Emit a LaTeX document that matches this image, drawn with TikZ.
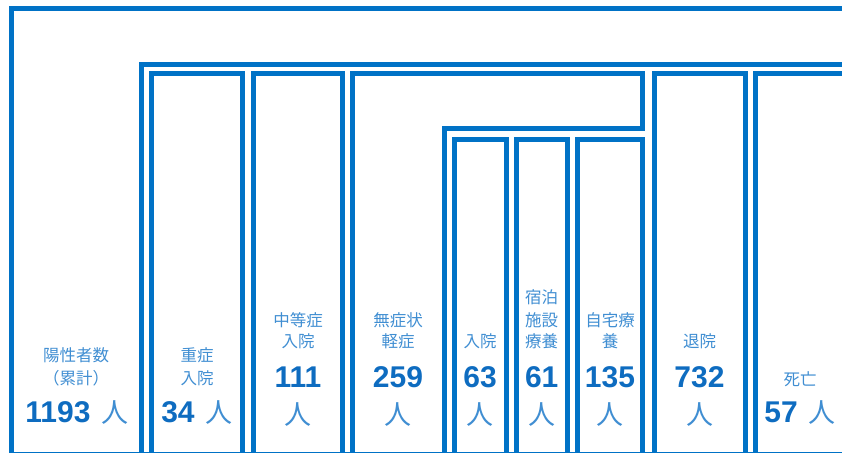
\documentclass[tikz,border=0pt]{standalone}
\usepackage{fontspec}
\newfontfamily\cjk{Noto Sans CJK JP}
\newfontfamily\numf{Liberation Sans}
\definecolor{lineblue}{RGB}{0,114,198}
\definecolor{labelblue}{RGB}{64,142,210}
\definecolor{numblue}{RGB}{14,108,192}
\tikzset{
  box/.style={draw=lineblue, line width=5pt, line join=miter},
  lbl/.style={text=labelblue, font=\cjk\fontsize{16.5}{16.5}\selectfont, inner sep=0pt, anchor=center},
  num/.style={text=numblue, font=\numf\bfseries\fontsize{30}{30}\selectfont, inner sep=0pt, anchor=center},
  ren/.style={text=labelblue, font=\cjk\fontsize{27}{27}\selectfont, inner sep=0pt, anchor=center},
}
\newcommand{\renchar}{{\cjk\mdseries\fontsize{27}{27}\selectfont\color{labelblue}人}}
\begin{document}
\begin{tikzpicture}[x=1pt,y=-1pt]
\useasboundingbox (0,0) rectangle (842,452);
% frames
\draw[box] (860,8.5) -- (11,8.5) -- (11,454) -- (860,454);
\draw[box] (860,64) -- (141.5,64) -- (141.5,454) -- (860,454);
\draw[box] (151.7,73.5) rectangle (242.5,454);
\draw[box] (253,73.5) rectangle (342.5,454);
\draw[box] (352.5,454) -- (352.5,73.5) -- (642.5,73.5) -- (642.5,128.5) -- (444,128.5) -- (444,454) -- cycle;
\draw[box] (454,139) rectangle (506,454);
\draw[box] (516,139) rectangle (567.5,454);
\draw[box] (577.5,139) rectangle (642.5,454);
\draw[box] (654,73.5) rectangle (745,454);
\draw[box] (755,73.5) -- (860,73.5) -- (860,454) -- (755,454) -- cycle;
% texts
\node[lbl] (p1) at (76,355.5) {陽性者数};
\node[lbl] (p2) at (76,378.5) {（累計）};
\node[num] (p3) at (77,412.5) {1193\hspace{11pt}\renchar};

\node[lbl] (j1) at (197,355.5) {重症};
\node[lbl] (j2) at (197,378.5) {入院};
\node[num] (j3) at (197,412.5) {34\hspace{11pt}\renchar};

\node[lbl] (c1) at (298,320) {中等症};
\node[lbl] (c2) at (298,341.5) {入院};
\node[num] (c3) at (298,377) {111};
\node[ren] (c4) at (298,415) {人};

\node[lbl] (m1) at (398,320) {無症状};
\node[lbl] (m2) at (398,341.5) {軽症};
\node[num] (m3) at (398,377) {259};
\node[ren] (m4) at (398,415) {人};

\node[lbl] (h1) at (480,341.5) {入院};
\node[num] (h2) at (480,377) {63};
\node[ren] (h3) at (480,415) {人};

\node[lbl] (s1) at (541.7,297.5) {宿泊};
\node[lbl] (s2) at (541.7,320) {施設};
\node[lbl] (s3) at (541.7,341.5) {療養};
\node[num] (s4) at (541.7,377) {61};
\node[ren] (s5) at (541.7,415) {人};

\node[lbl] (z1) at (610,320) {自宅療};
\node[lbl] (z2) at (610,341.5) {養};
\node[num] (z3) at (610,377) {135};
\node[ren] (z4) at (610,415) {人};

\node[lbl] (t1) at (699.5,341.5) {退院};
\node[num] (t2) at (699.5,377) {732};
\node[ren] (t3) at (699.5,415) {人};

\node[lbl] (d1) at (800,379) {死亡};
\node[num] (d2) at (800,412.5) {57\hspace{11pt}\renchar};
\end{tikzpicture}
\end{document}
